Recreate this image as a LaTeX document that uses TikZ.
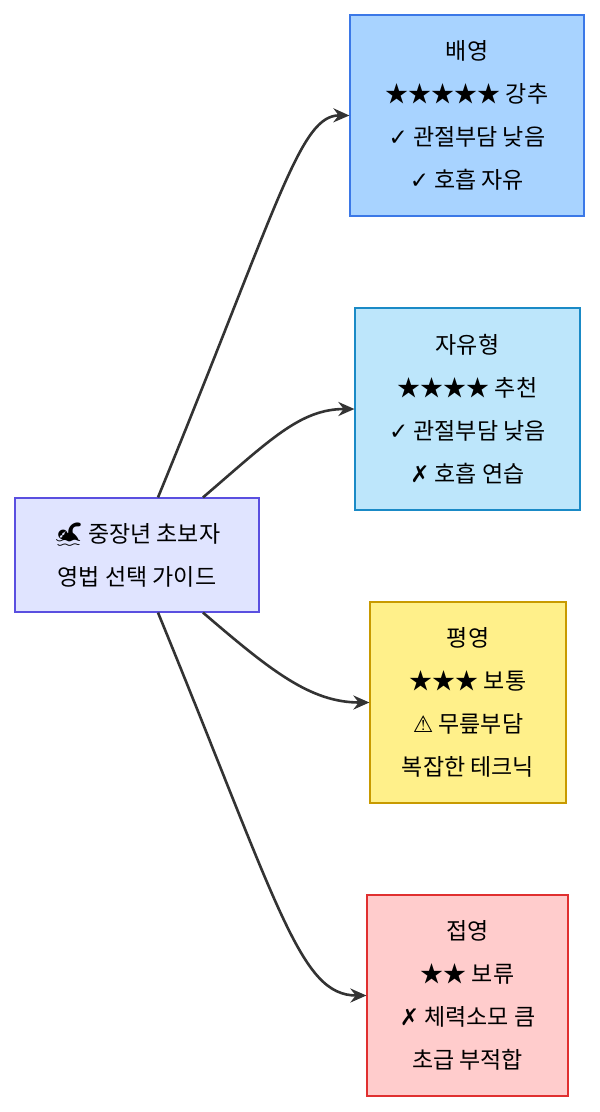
\documentclass[tikz,border=0pt]{standalone}
\usepackage{fontspec}
\setmainfont{Noto Sans CJK KR}
\newfontfamily\symf{DejaVu Sans}
\newfontfamily\emo{Noto Emoji}
\usetikzlibrary{arrows.meta,calc}
\begin{document}
\begin{tikzpicture}[x=1pt,y=-1pt,
  box/.style={draw,line width=1.2pt,align=center,inner sep=0pt,font=\fontsize{23}{43}\selectfont},
  conn/.style={draw=black!80,line width=2.6pt,-{Stealth[length=16pt,width=14pt]}}]
\useasboundingbox (0,0) rectangle (600,1112);
\definecolor{f1}{HTML}{A8D3FF}\definecolor{d1}{HTML}{3B78E7}
\definecolor{f2}{HTML}{BDE6FB}\definecolor{d2}{HTML}{1A8AC6}
\definecolor{f3}{HTML}{FFF08A}\definecolor{d3}{HTML}{C89A00}
\definecolor{f4}{HTML}{FFCCCC}\definecolor{d4}{HTML}{E03030}
\definecolor{f0}{HTML}{E0E4FF}\definecolor{d0}{HTML}{5A4FE0}
\node[box,fill=f0,draw=d0,minimum width=244pt,minimum height=114pt] (src) at (137,555) {{\emo 🏊} 중장년 초보자\\영법 선택 가이드};
\node[box,fill=f1,draw=d1,minimum width=234pt,minimum height=201pt] (b1) at (467,115.5) {배영\\★★★★★ 강추\\{\symf ✓} 관절부담 낮음\\{\symf ✓} 호흡 자유};
\node[box,fill=f2,draw=d2,minimum width=225pt,minimum height=202pt] (b2) at (467.5,409) {자유형\\★★★★ 추천\\{\symf ✓} 관절부담 낮음\\{\symf ✗} 호흡 연습};
\node[box,fill=f3,draw=d3,minimum width=196pt,minimum height=201pt] (b3) at (468,702.5) {평영\\★★★ 보통\\{\symf ⚠} 무릎부담\\복잡한 테크닉};
\node[box,fill=f4,draw=d4,minimum width=201pt,minimum height=201pt] (b4) at (467.5,995.5) {접영\\★★ 보류\\{\symf ✗} 체력소모 큼\\초급 부적합};
\coordinate (s1) at ($(src.north)+(21,0)$);
\coordinate (s2) at ($(src.north)+(66,0)$);
\coordinate (s3) at ($(src.south)+(66,0)$);
\coordinate (s4) at ($(src.south)+(21,0)$);
\draw[conn] (s1) .. controls (280,200) and (300,115) .. (b1.west);
\draw[conn] (s2) .. controls (270,440) and (300,409) .. (b2.west);
\draw[conn] (s3) .. controls (270,670) and (310,702.5) .. (b3.west);
\draw[conn] (s4) .. controls (280,910) and (300,995.5) .. (b4.west);
\end{tikzpicture}
\end{document}
